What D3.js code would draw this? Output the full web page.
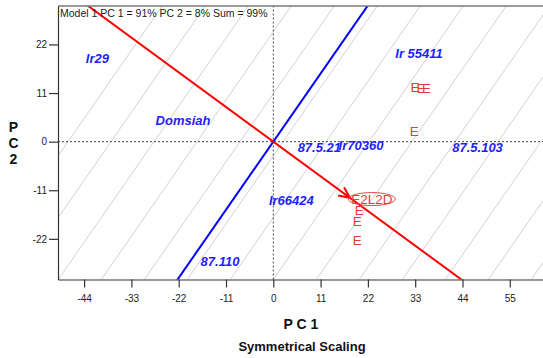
<!DOCTYPE html>
<html>
<head>
<meta charset="utf-8">
<script src="https://cdn.jsdelivr.net/npm/d3@7"></script>
<style>
  body { margin: 0; background: #fff; }
  svg { display: block; font-family: Arial, "Liberation Sans", sans-serif; }
</style>
</head>
<body>
<svg id="chart" width="543" height="358"></svg>
<script>
// ---- data ----
const xTicks = [-44, -33, -22, -11, 0, 11, 22, 33, 44, 55];
const yTicks = [22, 11, 0, -11, -22];

const genotypes = ["Ir29", "Ir 55411", "Domsiah", "87.5.21", "Ir70360", "87.5.103", "Ir66424", "87.110"];
const genoPC1   = [-40.9, 33.9, -21.0, 10.7, 20.4, 47.5, 4.2, -12.4];
const genoPC2   = [18.9, 20.1, 4.9, -1.3, -0.75, -1.3, -13.3, -27.0];

const envLabels = ["E", "E", "E", "E", "E2L2D", "E", "E", "E"];
const envPC1    = [32.95, 34.35, 35.6, 32.8, 22.9, 20.0, 19.5, 19.5];
const envPC2    = [12.4, 12.0, 12.15, 2.3, -13.0, -15.5, -18.1, -22.2];
const idealEnv  = "E2L2D";

// average-environment coordinates: the AEA arrow points here
const avgEnv = [17.8, -12.7];

// PC1 values where the guide lines (perpendicular to the AEA) meet the lower frame
const guideBase = [-70, -60, -50, -40, -30, -20, -10, 0, 10, 20, 30, 40, 50, 60, 70];

const header = "Model 1 PC 1 = 91% PC 2 = 8% Sum = 99%";

// ---- layout ----
const mLeft = 58, mRight = 543, mTop = 6, mBottom = 279.5;
const x = d3.scaleLinear().domain([-50.07, 62.72]).range([mLeft, mRight]);
const y = d3.scaleLinear().domain([-31.2, 30.7]).range([mBottom, mTop]);
const [xMin, xMax] = x.domain();
const [yMin, yMax] = y.domain();

const svg = d3.select("#chart");
svg.append("defs").append("clipPath").attr("id", "plot-clip")
  .append("rect").attr("x", mLeft).attr("y", mTop)
  .attr("width", mRight - mLeft).attr("height", mBottom - mTop);

const plot = svg.append("g").attr("clip-path", "url(#plot-clip)");

// AEA slope and its perpendicular
const aeaSlope = avgEnv[1] / avgEnv[0];
const perpSlope = -1 / aeaSlope;

// guide lines
plot.append("g").selectAll("line").data(guideBase).join("line")
  .attr("x1", c => x(c))
  .attr("y1", y(yMin))
  .attr("x2", c => x(c + (yMax - yMin) / perpSlope))
  .attr("y2", y(yMax))
  .attr("stroke", "#d2d2d2").attr("stroke-width", 1);

// origin reference lines
plot.append("line")
  .attr("x1", x(xMin)).attr("x2", x(xMax)).attr("y1", y(0)).attr("y2", y(0))
  .attr("stroke", "#444").attr("stroke-width", 1).attr("stroke-dasharray", "2,2");
plot.append("line")
  .attr("x1", x(0)).attr("x2", x(0)).attr("y1", y(yMin)).attr("y2", y(yMax))
  .attr("stroke", "#444").attr("stroke-width", 1).attr("stroke-dasharray", "2,2");

// ATC ordinate (blue) through the origin
const ext = 200;
plot.append("line")
  .attr("x1", x(-ext / perpSlope)).attr("y1", y(-ext))
  .attr("x2", x(ext / perpSlope)).attr("y2", y(ext))
  .attr("stroke", "#0000ff").attr("stroke-width", 2);

// AEA (red) through the origin
plot.append("line")
  .attr("x1", x(-ext)).attr("y1", y(-ext * aeaSlope))
  .attr("x2", x(ext)).attr("y2", y(ext * aeaSlope))
  .attr("stroke", "#ff0000").attr("stroke-width", 2);

// arrow head at the average environment
{
  const tx = x(avgEnv[0]), ty = y(avgEnv[1]);
  const ang = Math.atan2(ty - y(0), tx - x(0));
  const len = 12, spread = 25 * Math.PI / 180;
  [ang + Math.PI - spread, ang + Math.PI + spread].forEach(a => {
    plot.append("line")
      .attr("x1", tx).attr("y1", ty)
      .attr("x2", tx + len * Math.cos(a)).attr("y2", ty + len * Math.sin(a))
      .attr("stroke", "#ff0000").attr("stroke-width", 2);
  });
}

// environments
const envIdx = d3.range(envLabels.length);
plot.append("g").selectAll("text").data(envIdx).join("text")
  .attr("x", i => x(envPC1[i])).attr("y", i => y(envPC2[i]))
  .attr("dy", "0.36em")
  .attr("text-anchor", "middle")
  .attr("font-size", 13.5)
  .attr("fill", "#e23c3c")
  .text(i => envLabels[i]);

// ring around the ideal environment
{
  const i = envLabels.indexOf(idealEnv);
  plot.append("ellipse")
    .attr("cx", x(envPC1[i])).attr("cy", y(envPC2[i]))
    .attr("rx", 23.5).attr("ry", 6.5)
    .attr("fill", "none").attr("stroke", "#e84848").attr("stroke-width", 1);
}

// genotypes
const genIdx = d3.range(genotypes.length);
plot.append("g").selectAll("text").data(genIdx).join("text")
  .attr("x", i => x(genoPC1[i])).attr("y", i => y(genoPC2[i]))
  .attr("dy", "0.36em")
  .attr("text-anchor", "middle")
  .attr("font-size", 13).attr("font-weight", "bold").attr("font-style", "italic")
  .attr("fill", "#1e1eff")
  .text(i => genotypes[i]);

// frame
svg.append("line").attr("x1", mLeft).attr("x2", mRight).attr("y1", mTop).attr("y2", mTop)
  .attr("stroke", "#7a7a7a").attr("stroke-width", 1.5);

// axes
const plainNum = d => String(d);
const xAxis = svg.append("g").attr("transform", `translate(0,${mBottom})`)
  .call(d3.axisBottom(x).tickValues(xTicks).tickFormat(plainNum)
    .tickSize(8).tickSizeOuter(0).tickPadding(7));
const yAxis = svg.append("g").attr("transform", `translate(${mLeft},0)`)
  .call(d3.axisLeft(y).tickValues(yTicks).tickFormat(plainNum)
    .tickSize(9).tickSizeOuter(0).tickPadding(2));
[xAxis, yAxis].forEach(g => {
  g.select(".domain").attr("stroke", "#333").attr("stroke-width", 1.2);
  g.selectAll(".tick line").attr("stroke", "#333").attr("stroke-width", 1.2);
  g.selectAll(".tick text").attr("font-size", 10).attr("fill", "#222")
    .attr("font-family", "Arial, 'Liberation Sans', sans-serif");
});

// header
svg.append("text").attr("x", 60).attr("y", 17)
  .attr("font-size", 10.5).attr("fill", "#222").text(header);

// axis titles
svg.append("text").attr("x", 301).attr("y", 329)
  .attr("text-anchor", "middle").attr("font-size", 14).attr("font-weight", "bold")
  .attr("fill", "#111").attr("xml:space", "preserve").text("P C 1");
svg.append("text").attr("x", 302).attr("y", 351)
  .attr("text-anchor", "middle").attr("font-size", 13).attr("font-weight", "bold")
  .attr("fill", "#111").text("Symmetrical Scaling");
svg.append("g").selectAll("text").data(["P", "C", "2"]).join("text")
  .attr("x", 13.5).attr("y", (d, i) => 127 + i * 15.8)
  .attr("dy", "0.36em")
  .attr("text-anchor", "middle").attr("font-size", 14).attr("font-weight", "bold")
  .attr("fill", "#111").text(d => d);
</script>
</body>
</html>
